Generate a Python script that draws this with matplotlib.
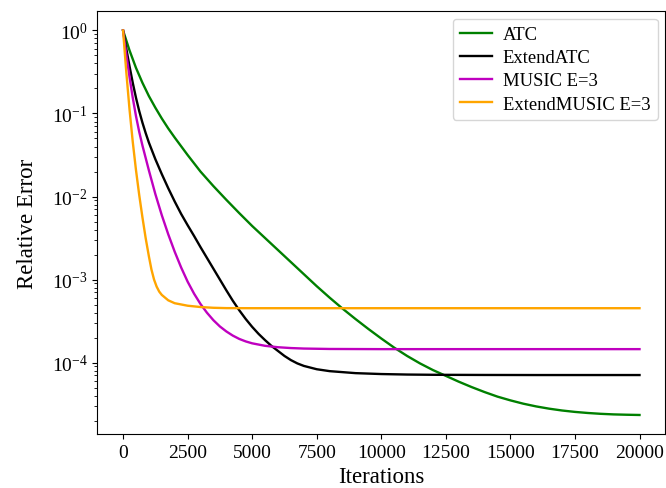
import matplotlib
matplotlib.use('Agg')
import matplotlib.pyplot as plt
import numpy as np

plt.rcParams['font.family'] = 'serif'
plt.rcParams['font.serif'] = ['Liberation Serif', 'DejaVu Serif']

# Values, as log10(relative error) at given iterations
iters_orange = [0, 125, 250, 375, 500, 625, 750, 875, 1000, 1100, 1200, 1300, 1400, 1500,
                1750, 2000, 2500, 3000, 3500, 4000, 5000, 7500, 10000, 12500, 15000, 17500, 20000]
log_orange = [0, -0.50, -0.95, -1.34, -1.68, -1.98, -2.25, -2.50, -2.72, -2.88, -3.00, -3.085, -3.145, -3.185,
              -3.25, -3.285, -3.315, -3.331, -3.34, -3.344, -3.345, -3.345, -3.345, -3.345, -3.345, -3.345, -3.345]

iters_magenta = [0, 125, 250, 375, 500, 625, 750, 1000, 1250, 1500, 1750, 2000, 2250, 2500, 2750, 3000,
                 3250, 3500, 3750, 4000, 4250, 4500, 4750, 5000, 5500, 6000, 6500, 7000, 8000, 10000,
                 12500, 15000, 17500, 20000]
log_magenta = [0, -0.29, -0.56, -0.81, -1.03, -1.22, -1.385, -1.685, -1.97, -2.225, -2.455, -2.665, -2.855, -3.025,
               -3.17, -3.295, -3.40, -3.49, -3.565, -3.625, -3.675, -3.715, -3.745, -3.768, -3.798, -3.815,
               -3.825, -3.831, -3.836, -3.838, -3.838, -3.838, -3.838, -3.838]

iters_black = [0, 125, 250, 375, 500, 625, 750, 875, 1000, 1250, 1500, 1750, 2000, 2250, 2500, 2750, 3000,
               3250, 3500, 3750, 4000, 4250, 4500, 4750, 5000, 5250, 5500, 5750, 6000, 6250, 6500,
               6750, 7000, 7500, 8000, 9000, 10000, 11000, 12000, 14000, 16000, 18000, 20000]
log_black = [0, -0.22, -0.43, -0.63, -0.81, -0.97, -1.11, -1.235, -1.35, -1.55, -1.73, -1.90, -2.06, -2.21, -2.345,
             -2.475, -2.61, -2.74, -2.87, -3.00, -3.13, -3.255, -3.37, -3.475, -3.57, -3.655, -3.73, -3.80,
             -3.86, -3.92, -3.97, -4.01, -4.04, -4.08, -4.103, -4.127, -4.138, -4.144, -4.147, -4.149,
             -4.15, -4.15, -4.15]

iters_green = [0, 250, 500, 750, 1000, 1250, 1500, 1750, 2000, 2500, 3000, 3500, 4000, 4500, 5000,
               5500, 6000, 6500, 7000, 7500, 8000, 8500, 9000, 9500, 10000, 10500, 11000, 11500,
               12000, 12500, 13000, 13500, 14000, 14500, 15000, 15500, 16000, 16500, 17000, 17500,
               18000, 18500, 19000, 19500, 20000]
log_green = [0, -0.24, -0.45, -0.63, -0.79, -0.93, -1.06, -1.18, -1.29, -1.50, -1.70, -1.875, -2.04, -2.20, -2.355,
             -2.50, -2.645, -2.79, -2.935, -3.08, -3.218, -3.35, -3.475, -3.595, -3.71, -3.82, -3.92, -4.01,
             -4.09, -4.16, -4.23, -4.295, -4.355, -4.41, -4.455, -4.495, -4.528, -4.555, -4.577, -4.594,
             -4.607, -4.617, -4.624, -4.628, -4.631]

fig = plt.figure(figsize=(6.66, 4.89), dpi=100)
ax = fig.add_axes([0.146, 0.110, 0.853, 0.865])

ax.plot(iters_green, 10 ** np.array(log_green), color='green', lw=1.7, label='ATC')
ax.plot(iters_black, 10 ** np.array(log_black), color='black', lw=1.7, label='ExtendATC')
ax.plot(iters_magenta, 10 ** np.array(log_magenta), color='m', lw=1.7, label='MUSIC E=3')
ax.plot(iters_orange, 10 ** np.array(log_orange), color='orange', lw=1.7, label='ExtendMUSIC E=3')

ax.set_yscale('log')
ax.set_xticks(np.arange(0, 20001, 2500))
ax.tick_params(labelsize=14)
ax.set_xlabel('Iterations', fontsize=16.5)
ax.set_ylabel('Relative Error', fontsize=16.5, labelpad=10)
ax.legend(loc='upper right', fontsize=13.4, labelspacing=0.33, borderaxespad=0.4,
          handlelength=1.7, handletextpad=0.6)

fig.savefig('out.png', dpi=100)
